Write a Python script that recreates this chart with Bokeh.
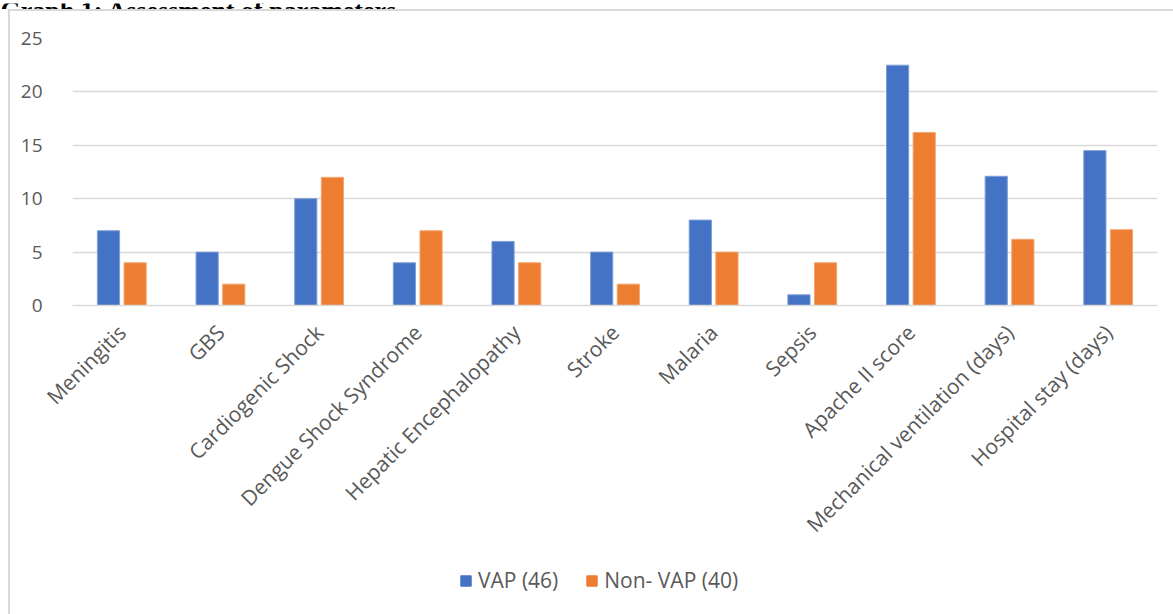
from bokeh.plotting import figure
from bokeh.models import (FactorRange, Range1d, Legend, LegendItem, Label, ColumnDataSource,
                          SingleIntervalTicker, Div, Spacer)
from bokeh.layouts import column, row
from bokeh.transform import dodge
from bokeh.embed import file_html
from bokeh.resources import INLINE
import math

categories = ["Meningitis", "GBS", "Cardiogenic Shock", "Dengue Shock Syndrome",
              "Hepatic Encephalopathy", "Stroke", "Malaria", "Sepsis",
              "Apache II score", "Mechanical ventilation (days)", "Hospital stay (days)"]
vap = [7, 5, 10, 4, 6, 5, 8, 1, 22.5, 12.1, 14.5]
non_vap = [4, 2, 12, 7, 4, 2, 5, 4, 16.2, 6.2, 7.1]
series_names = ["VAP (46)", "Non- VAP (40)"]
title_text = "Graph 1: Assessment of parameters"

W, H = 1173, 614
FONT = "Open Sans"
GREY = "#595959"
BLUE, ORANGE = "#4472C4", "#ED7D31"
BORDER = "#d9d9d9"

# ---- title strip (top part cut off, as in the reference)
TH = 9
ft = figure(width=W, height=TH, x_range=Range1d(0, W), y_range=Range1d(0, TH),
            x_axis_location=None, y_axis_location=None, min_border=0,
            output_backend="svg", toolbar_location=None, margin=0)
ft.outline_line_color = None
ft.xgrid.visible = False
ft.ygrid.visible = False
ft.add_layout(Label(x=0, y=TH - 7, text=title_text, text_font="Liberation Serif",
                    text_font_style="bold", text_font_size="26px", text_color="black",
                    text_baseline="alphabetic", text_align="left"))

# ---- main chart
PW = W - 10
PH = 560
src = ColumnDataSource(dict(cat=categories, vap=vap, non=non_vap))
p = figure(width=PW, height=PH, x_range=FactorRange(*categories, range_padding=0),
           y_range=Range1d(0, 25), output_backend="svg", toolbar_location=None,
           min_border_left=62, min_border_right=16, min_border_top=27,
           min_border_bottom=PH - 294, margin=0)
p.outline_line_color = None

r1 = p.vbar(x=dodge("cat", -0.135, range=p.x_range), top="vap", width=0.225, source=src,
            fill_color=BLUE, line_color="#7F9FD9", line_width=1)
r2 = p.vbar(x=dodge("cat", 0.135, range=p.x_range), top="non", width=0.225, source=src,
            fill_color=ORANGE, line_color="#F4A672", line_width=1)

p.xgrid.grid_line_color = None
p.ygrid.grid_line_color = BORDER
p.ygrid.grid_line_width = 1.5
p.yaxis.ticker = SingleIntervalTicker(interval=5)
p.yaxis.axis_line_color = None
p.yaxis.major_tick_line_color = None
p.yaxis.minor_tick_line_color = None
p.yaxis.major_label_standoff = 24
p.yaxis.major_label_text_font_size = "19px"
p.xaxis.axis_line_color = BORDER
p.xaxis.axis_line_width = 1.5
p.xaxis.major_tick_line_color = None
p.xaxis.minor_tick_line_color = None
p.xaxis.major_label_orientation = math.pi / 4
p.xaxis.major_label_standoff = 17
p.xaxis.major_label_text_font_size = "21px"
for ax in (p.xaxis, p.yaxis):
    ax.major_label_text_font = FONT
    ax.major_label_text_color = GREY

# ---- legend strip (swatch renderers sit outside the strip's visible range)
LH = H - TH - 2 - PH
fl = figure(width=PW, height=LH, x_range=Range1d(0, 1), y_range=Range1d(0, 1),
            x_axis_location=None, y_axis_location=None, min_border=0,
            output_backend="svg", toolbar_location=None, margin=0)
fl.outline_line_color = None
fl.xgrid.visible = False
fl.ygrid.visible = False
l1 = fl.vbar(x=[-10], bottom=[-10], top=[-9], width=0.1, fill_color=BLUE, line_color=BLUE)
l2 = fl.vbar(x=[-10], bottom=[-10], top=[-9], width=0.1, fill_color=ORANGE, line_color=ORANGE)
legend = Legend(items=[LegendItem(label=series_names[0], renderers=[l1]),
                       LegendItem(label=series_names[1], renderers=[l2])],
                orientation="horizontal", location=(387, 20),
                border_line_color=None, background_fill_alpha=0,
                glyph_width=13, glyph_height=13, label_text_font=FONT,
                label_text_font_size="21px", label_text_color=GREY, spacing=27,
                padding=0, margin=0, label_standoff=6)
fl.add_layout(legend, "center")

top_border = row(Spacer(width=8, height=2, margin=0),
                 Div(text="", width=W - 8, height=2, margin=0,
                     styles={"background-color": BORDER}), spacing=0)
body = row(Spacer(width=8, height=PH + LH, margin=0),
           Div(text="", width=2, height=PH + LH, margin=0, styles={"background-color": BORDER}),
           column(p, fl, spacing=0), spacing=0)
layout = column(ft, top_border, body, spacing=0)

open("out.html", "w").write(file_html(layout, INLINE))
